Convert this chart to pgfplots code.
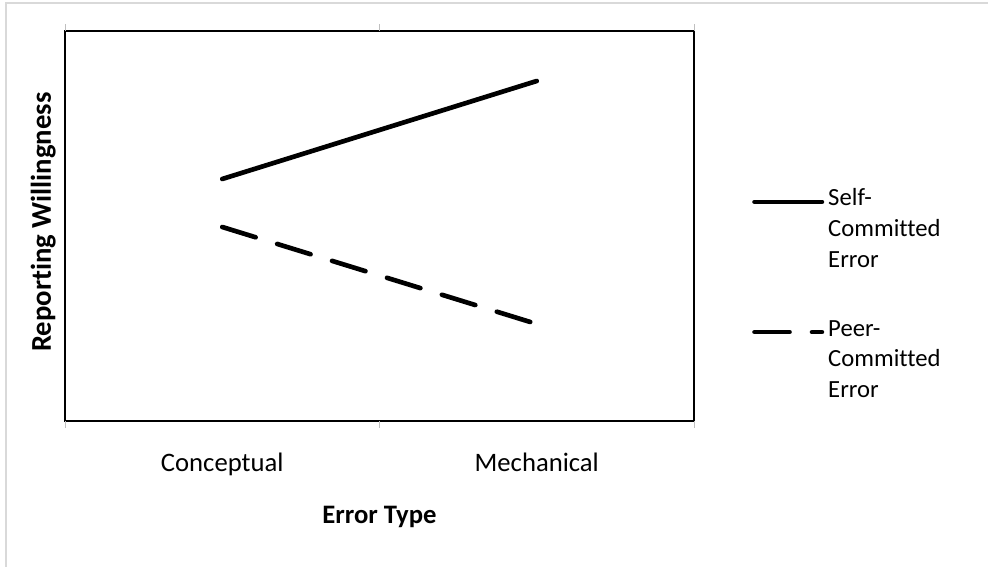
\documentclass[border=0pt]{standalone}
\usepackage{pgfplots}
\pgfplotsset{compat=1.18}
\usepackage{fontspec}
\setmainfont[Ligatures=NoCommon]{Carlito}
\begin{document}
\begin{tikzpicture}
\path[use as bounding box] (0pt,0pt) rectangle (741pt,425.25pt);
\draw[black!15, line width=1.5pt] (4.5pt,0pt) -- (4.5pt,423pt) -- (741pt,423pt);
\begin{axis}[
  at={(48.75pt,109.5pt)}, anchor=south west,
  scale only axis, width=471.75pt, height=292.5pt,
  xmin=0, xmax=2, ymin=0, ymax=390,
  axis line style={black, line width=1.5pt},
  ytick=\empty,
  xtick={0.5,1.5},
  xticklabels={Conceptual,Mechanical},
  major tick length=0pt,
  extra x ticks={0,1,2},
  extra x tick labels={},
  extra x tick style={major tick length=5pt, tick align=outside, tick style={black!25, line width=0.75pt}},
  xticklabel style={anchor=base, yshift=-38pt},
  font=\fontsize{20}{23}\selectfont,
  xlabel={\textbf{Error Type}},
  ylabel={\fontsize{21.5}{24}\selectfont\textbf{Reporting Willingness}},
  x label style={at={(axis description cs:0.5,0)}, anchor=base, yshift=-77pt},
  y label style={at={(axis description cs:-0.0223,0.51)}, anchor=base},
  legend style={at={(rel axis cs:1.0858,0.614)}, anchor=north west, draw=none, fill=none,
    font=\fontsize{18.5}{23}\selectfont, row sep=80pt,
    nodes={inner sep=0pt, outer sep=0pt, anchor=base west}, column sep=3pt},
  legend image code/.code={\draw[#1] (1.75pt,0.3em) -- (52.25pt,0.3em);},
  clip=false,
]
\addplot[black, line width=3.5pt, line cap=round] coordinates {(0.5,242) (1.5,340)};
\addlegendentry{\begin{tabular}[t]{@{}l@{}}Self-\\Committed\\Error\end{tabular}}
\addplot[black, line width=3.5pt, line cap=round, dash pattern=on 26.2pt off 16.9pt] coordinates {(0.5,194) (1.5,97)};
\addlegendentry{\begin{tabular}[t]{@{}l@{}}Peer-\\Committed\\Error\end{tabular}}
\end{axis}
\end{tikzpicture}
\end{document}
